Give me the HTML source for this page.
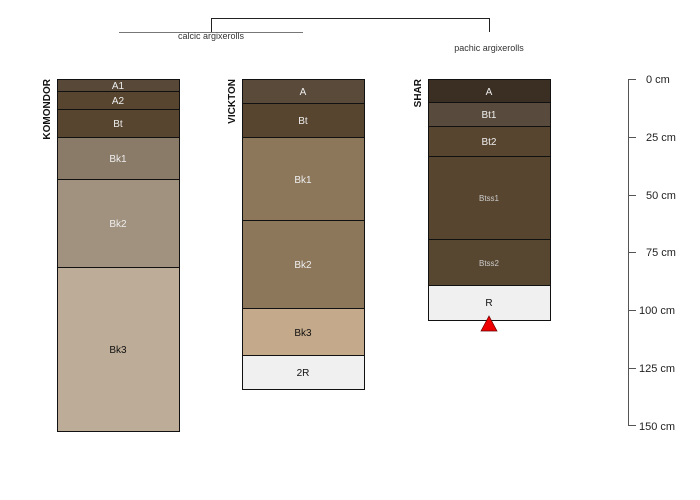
<!DOCTYPE html>
<html><head><meta charset="utf-8"><style>body{margin:0;background:#fff}svg{display:block}text{font-family:"Liberation Sans",sans-serif}</style></head><body>
<svg width="700" height="500" xmlns="http://www.w3.org/2000/svg">
<rect width="700" height="500" fill="#fff"/>
<!-- dendrogram -->
<g fill="none" stroke-width="1">
<line x1="119" y1="32.5" x2="303" y2="32.5" stroke="#777"/>
<path d="M211.5 32 V18.5 H489.5 V32" stroke="#222"/>
</g>
<text x="211" y="39" font-size="9" text-anchor="middle" fill="#333">calcic argixerolls</text>
<text x="489" y="51" font-size="9" text-anchor="middle" fill="#333">pachic argixerolls</text>
<g stroke="#111" stroke-width="1" font-size="10" text-anchor="middle">
<!-- Komondor -->
<rect x="57.5" y="79.5" width="122" height="12" fill="#574838"/>
<rect x="57.5" y="91.5" width="122" height="18" fill="#574530"/>
<rect x="57.5" y="109.5" width="122" height="28" fill="#574530"/>
<rect x="57.5" y="137.5" width="122" height="42" fill="#8a7a68"/>
<rect x="57.5" y="179.5" width="122" height="88" fill="#a19280"/>
<rect x="57.5" y="267.5" width="122" height="164" fill="#bdac97"/>
<!-- Vickton -->
<rect x="242.5" y="79.5" width="122" height="24" fill="#5a4a3a"/>
<rect x="242.5" y="103.5" width="122" height="34" fill="#574530"/>
<rect x="242.5" y="137.5" width="122" height="83" fill="#8c775b"/>
<rect x="242.5" y="220.5" width="122" height="88" fill="#8c775b"/>
<rect x="242.5" y="308.5" width="122" height="47" fill="#c4a98a"/>
<rect x="242.5" y="355.5" width="122" height="34" fill="#f0f0f0"/>
<!-- Shar -->
<rect x="428.5" y="79.5" width="122" height="23" fill="#3b2e22"/>
<rect x="428.5" y="102.5" width="122" height="24" fill="#584a3c"/>
<rect x="428.5" y="126.5" width="122" height="30" fill="#574530"/>
<rect x="428.5" y="156.5" width="122" height="83" fill="#574530"/>
<rect x="428.5" y="239.5" width="122" height="46" fill="#574630"/>
<rect x="428.5" y="285.5" width="122" height="35" fill="#f0f0f0"/>
</g>
<polygon points="489,316 481,331 497,331" fill="#e00" stroke="#600" stroke-width="0.7"/>
<g font-size="10" text-anchor="middle">
<text x="118" y="89" fill="#eee">A1</text>
<text x="118" y="104" fill="#eee">A2</text>
<text x="118" y="127" fill="#eee">Bt</text>
<text x="118" y="162" fill="#eee">Bk1</text>
<text x="118" y="227" fill="#eee">Bk2</text>
<text x="118" y="353" fill="#111">Bk3</text>
<text x="303" y="95" fill="#eee">A</text>
<text x="303" y="124" fill="#eee">Bt</text>
<text x="303" y="183" fill="#eee">Bk1</text>
<text x="303" y="268" fill="#eee">Bk2</text>
<text x="303" y="336" fill="#111">Bk3</text>
<text x="303" y="376" fill="#111">2R</text>
<text x="489" y="95" fill="#eee">A</text>
<text x="489" y="118" fill="#eee">Bt1</text>
<text x="489" y="145" fill="#eee">Bt2</text>
<text x="489" y="201" fill="#ccc" font-size="8">Btss1</text>
<text x="489" y="266" fill="#ccc" font-size="8">Btss2</text>
<text x="489" y="306" fill="#111">R</text>
</g>
<g font-size="10" font-weight="bold" fill="#111">
<text transform="translate(50,79) rotate(-90)" text-anchor="end">KOMONDOR</text>
<text transform="translate(235,79) rotate(-90)" text-anchor="end">VICKTON</text>
<text transform="translate(421,79) rotate(-90)" text-anchor="end">SHAR</text>
</g>
<g stroke="#555" stroke-width="1">
<line x1="628.5" y1="79" x2="628.5" y2="426"/>
<line x1="628" y1="79.5" x2="636" y2="79.5"/>
<line x1="628" y1="137.5" x2="636" y2="137.5"/>
<line x1="628" y1="195.5" x2="636" y2="195.5"/>
<line x1="628" y1="252.5" x2="636" y2="252.5"/>
<line x1="628" y1="310.5" x2="636" y2="310.5"/>
<line x1="628" y1="368.5" x2="636" y2="368.5"/>
<line x1="628" y1="425.5" x2="636" y2="425.5"/>
</g>
<g font-size="11" fill="#222">
<text x="646" y="83">0 cm</text>
<text x="646" y="141">25 cm</text>
<text x="646" y="199">50 cm</text>
<text x="646" y="256">75 cm</text>
<text x="639" y="314">100 cm</text>
<text x="639" y="372">125 cm</text>
<text x="639" y="430">150 cm</text>
</g>
</svg>
</body></html>
